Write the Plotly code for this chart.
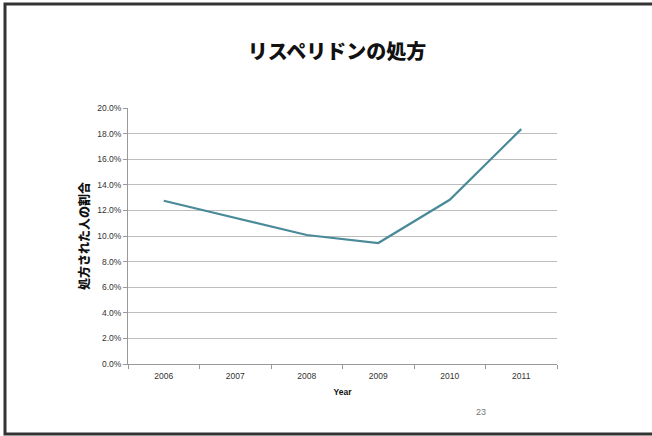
import plotly.graph_objects as go

years = ["2006", "2007", "2008", "2009", "2010", "2011"]
share = [0.1275, 0.114, 0.1008, 0.0945, 0.1283, 0.1835]
y_ticks = [0, 0.02, 0.04, 0.06, 0.08, 0.10, 0.12, 0.14, 0.16, 0.18, 0.20]

W, H = 652, 436
L, R, T, B = 128, 95, 108, 72
pw, ph = W - L - R, H - T - B

def px(x):
    return (x - L) / pw

def py(y):
    return (H - B - y) / ph

fig = go.Figure(go.Scatter(
    x=years, y=share, mode="lines",
    line=dict(color="#4a8a99", width=2.2),
))

fig.update_layout(
    width=W, height=H,
    margin=dict(l=L, r=R, t=T, b=B),
    paper_bgcolor="white", plot_bgcolor="white",
    showlegend=False,
    font=dict(family="Liberation Sans, Arial, sans-serif", color="#333333"),
    title=dict(
        text="リスペリドンの処方",
        x=px(337), xref="paper", xanchor="center",
        y=1 - 52 / H, yanchor="middle",
        font=dict(family="Noto Sans CJK JP", size=20, color="#111111", weight=900),
    ),
    xaxis=dict(
        type="category",
        showgrid=False,
        showline=True, linecolor="#999999", linewidth=1,
        ticks="outside", tickson="boundaries", ticklen=4, tickcolor="#999999",
        tickfont=dict(size=8.5, color="#333333"),
        ticklabelstandoff=4,
        title=dict(text="<b>Year</b>", font=dict(size=8.5, color="#111111"), standoff=8),
        range=[-0.5, 5.5],
    ),
    yaxis=dict(
        range=[0, 0.2],
        tickvals=y_ticks, tickformat=".1%",
        showgrid=True, gridcolor="#bdbdbd", gridwidth=1,
        showline=True, linecolor="#999999", linewidth=1,
        ticks="outside", ticklen=4, tickcolor="#999999",
        tickfont=dict(size=8.5, color="#333333"),
        zeroline=False,
        title=dict(text="処方された人の割合",
                   font=dict(family="Noto Sans CJK JP", size=12, color="#111111", weight=900),
                   standoff=4),
    ),
    shapes=[dict(
        type="rect", xref="paper", yref="paper",
        x0=px(5), x1=px(665), y0=py(434), y1=py(4),
        line=dict(color="#333333", width=3), fillcolor="rgba(0,0,0,0)",
    )],
    annotations=[dict(
        text="23", xref="paper", yref="paper",
        x=px(481), y=py(412), xanchor="center", yanchor="middle", showarrow=False,
        font=dict(size=9, color="#777777"),
    )],
)

fig.write_html("out.html")
